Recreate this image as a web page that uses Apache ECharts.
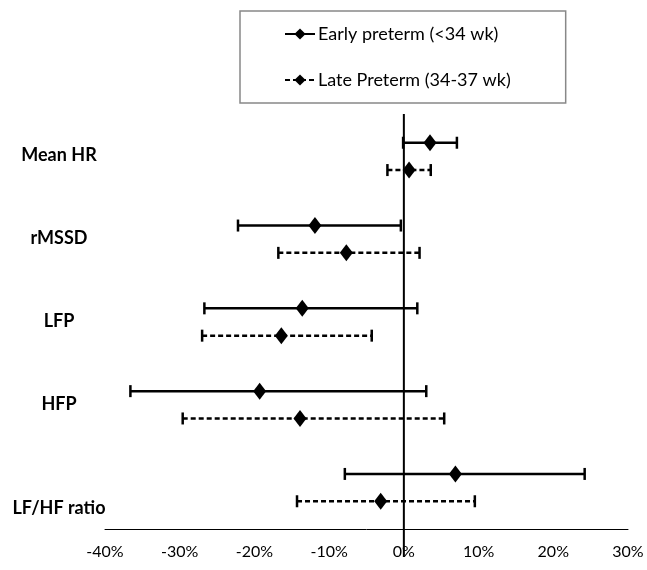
<!DOCTYPE html>
<html><head><meta charset="utf-8">
<script src="https://cdn.jsdelivr.net/npm/echarts@6/dist/echarts.min.js"></script>
<style>html,body{margin:0;padding:0;background:#fff}#c{width:647px;height:570px}</style>
</head><body><div id="c"></div>
<script>
const categories = ['Mean HR', 'rMSSD', 'LFP', 'HFP', 'LF/HF ratio'];
const seriesNames = ['Early preterm (<34 wk)', 'Late Preterm (34-37 wk)'];
const earlyMid  = [3.5, -11.9, -13.6, -19.3, 6.9];
const earlyLow  = [-0.1, -22.2, -26.7, -36.6, -7.9];
const earlyHigh = [7.1, -0.4, 1.8, 3.0, 24.2];
const lateMid   = [0.7, -7.7, -16.4, -13.9, -3.1];
const lateLow   = [-2.2, -16.8, -27.0, -29.6, -14.3];
const lateHigh  = [3.6, 2.1, -4.3, 5.4, 9.5];
const xMin = -40, xMax = 30, xStep = 10;

const FONT = 'Lato, "Open Sans", sans-serif';

function rows(low, mid, high) {
  return categories.map((c, i) => [i, low[i], mid[i], high[i]]);
}

function makeRender(sign, dashed) {
  return function (params, api) {
    const cat = api.value(0);
    const pLow = api.coord([api.value(1), cat]);
    const pMid = api.coord([api.value(2), cat]);
    const pHigh = api.coord([api.value(3), cat]);
    const band = api.size([0, 1])[1];
    const off = sign * band * 0.165;
    const y = pMid[1] + off;
    const cap = 6;
    const st = { stroke: '#000', lineWidth: 2.5, lineDash: dashed ? [5, 3] : null, fill: null };
    const capSt = { stroke: '#000', lineWidth: 2.5, fill: null };
    const dw = 6.5, dh = 8.5;
    return {
      type: 'group',
      children: [
        { type: 'line', shape: { x1: pLow[0], y1: y, x2: pHigh[0], y2: y }, style: st },
        { type: 'line', shape: { x1: pLow[0], y1: y - cap, x2: pLow[0], y2: y + cap }, style: capSt },
        { type: 'line', shape: { x1: pHigh[0], y1: y - cap, x2: pHigh[0], y2: y + cap }, style: capSt },
        { type: 'polygon', shape: { points: [[pMid[0], y - dh], [pMid[0] + dw, y], [pMid[0], y + dh], [pMid[0] - dw, y]] }, style: { fill: '#000', stroke: null } }
      ]
    };
  };
}

const chart = echarts.init(document.getElementById('c'), null, { renderer: 'canvas' });
const lastIdx = categories.length - 1;
chart.setOption({
  animation: false,
  backgroundColor: '#fff',
  textStyle: { fontFamily: FONT },
  grid: { left: 105, right: 19, top: 115, bottom: 41, containLabel: false },
  legend: {
    data: seriesNames,
    orient: 'vertical',
    left: 240, top: 11,
    padding: [14, 55, 14, 44],
    itemGap: 28,
    itemWidth: 30, itemHeight: 14,
    borderColor: '#888', borderWidth: 1.5,
    textStyle: { fontSize: 18, color: '#000', fontFamily: FONT, padding: [0, 0, 0, -2] }
  },
  xAxis: {
    type: 'value', min: xMin, max: xMax, interval: xStep,
    axisLine: { show: true, onZero: false, lineStyle: { color: '#000', width: 1 } },
    axisTick: { show: false },
    splitLine: { show: false },
    axisLabel: { formatter: '{value}%', fontSize: 16, color: '#000', margin: 15, fontFamily: FONT }
  },
  yAxis: {
    type: 'category', data: categories, inverse: true,
    axisLine: { show: false }, axisTick: { show: false }, splitLine: { show: false },
    axisLabel: {
      align: 'center', margin: 46, fontSize: 18, fontWeight: 'bold', color: '#000', fontFamily: FONT,
      formatter: (v, i) => i === lastIdx ? '{low|' + v + '}' : '{n|' + v + '}',
      rich: {
        n: { fontSize: 18, fontWeight: 'bold', color: '#000', fontFamily: FONT, padding: [0, 0, 2, 0] },
        low: { fontSize: 18, fontWeight: 'bold', color: '#000', fontFamily: FONT, padding: [42, 0, 0, 0] }
      }
    }
  },
  series: [
    {
      name: seriesNames[0], type: 'line', data: [], symbol: 'diamond', symbolSize: [10, 12],
      itemStyle: { color: '#000' }, lineStyle: { color: '#000', width: 2.5, type: 'solid' }
    },
    {
      name: seriesNames[1], type: 'line', data: [], symbol: 'diamond', symbolSize: [10, 12],
      itemStyle: { color: '#000' }, lineStyle: { color: '#000', width: 2.5, type: [5, 3] }
    },
    {
      name: 'zeroLine', type: 'custom', silent: true, z: 1,
      data: [[0]],
      encode: { x: 0 },
      renderItem: function (params, api) {
        const cs = params.coordSys;
        const p = api.coord([0, 0]);
        return { type: 'line', shape: { x1: p[0], y1: cs.y - 1, x2: p[0], y2: cs.y + cs.height + 28 }, style: { stroke: '#000', lineWidth: 2 } };
      }
    },
    {
      name: seriesNames[0], type: 'custom', z: 3,
      data: rows(earlyLow, earlyMid, earlyHigh),
      encode: { x: [1, 2, 3], y: 0 },
      renderItem: makeRender(-1, false)
    },
    {
      name: seriesNames[1], type: 'custom', z: 3,
      data: rows(lateLow, lateMid, lateHigh),
      encode: { x: [1, 2, 3], y: 0 },
      renderItem: makeRender(1, true)
    }
  ]
});
</script>
</body></html>
